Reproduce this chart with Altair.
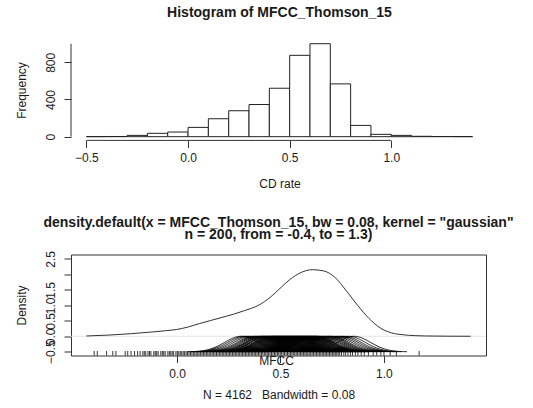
import altair as alt
import pandas as pd

# ---------------- data ----------------
hist_bin_start = [-0.5, -0.4, -0.3, -0.2, -0.1, 0.0, 0.1, 0.2, 0.3, 0.4,
                  0.5, 0.6, 0.7, 0.8, 0.9, 1.0, 1.1, 1.2, 1.3]
hist_bin_end = [-0.4, -0.3, -0.2, -0.1, 0.0, 0.1, 0.2, 0.3, 0.4, 0.5,
                0.6, 0.7, 0.8, 0.9, 1.0, 1.1, 1.2, 1.3, 1.4]
hist_counts = [1, 2, 14, 36, 50, 100, 193, 279, 346, 521,
               875, 1000, 568, 121, 25, 14, 4, 2, 1]
hist_x_ticks = [-0.5, 0.0, 0.5, 1.0]
hist_y_ticks = [0, 200, 400, 600, 800, 1000]

dens_x = [-0.40, -0.30, -0.20, -0.10, -0.05, 0.00, 0.05, 0.10, 0.15, 0.20,
          0.25, 0.30, 0.35, 0.40, 0.45, 0.50, 0.55, 0.60, 0.65, 0.70,
          0.75, 0.80, 0.85, 0.90, 0.95, 1.00, 1.05, 1.10, 1.20, 1.30]
dens_y = [0.010, 0.040, 0.085, 0.145, 0.180, 0.220, 0.300, 0.410, 0.510, 0.610,
          0.710, 0.830, 0.960, 1.180, 1.500, 1.830, 2.060, 2.150, 2.110, 1.900,
          1.470, 1.000, 0.580, 0.270, 0.110, 0.050, 0.022, 0.010, 0.003, 0.001]

kernel_centers = [0.31, 0.325, 0.34, 0.355, 0.37, 0.38, 0.39, 0.40, 0.41, 0.415,
                  0.42, 0.43, 0.435, 0.44, 0.45, 0.455, 0.46, 0.465, 0.47, 0.475,
                  0.48, 0.485, 0.49, 0.495, 0.50, 0.505, 0.51, 0.515, 0.52, 0.525,
                  0.53, 0.535, 0.54, 0.545, 0.55, 0.555, 0.56, 0.565, 0.57, 0.575,
                  0.58, 0.585, 0.59, 0.595, 0.60, 0.605, 0.61, 0.615, 0.62, 0.625,
                  0.63, 0.635, 0.64, 0.645, 0.65, 0.655, 0.66, 0.665, 0.67, 0.675,
                  0.68, 0.69, 0.70, 0.71, 0.72, 0.73, 0.74, 0.75, 0.765, 0.78,
                  0.795, 0.81, 0.83, 0.855]

rug_values = [-0.40, -0.385, -0.34, -0.31, -0.295, -0.25, -0.238, -0.222, -0.205, -0.19,
              -0.178, -0.165, -0.158, -0.151, -0.14, -0.133, -0.126, -0.112, -0.105, -0.098,
              -0.091, -0.078, -0.071, -0.064, -0.057, -0.044, -0.037, -0.03, -0.023, -0.016,
              -0.005, 0.002, 0.009, 0.016, 0.023, 0.03, 0.037, 0.044, 0.051, 0.058,
              0.065, 0.072, 0.079, 0.086, 0.093, 0.100, 0.107, 0.114, 0.121, 0.128,
              0.135, 0.142, 0.149, 0.156, 0.163, 0.170, 0.177, 0.184, 0.191, 0.198,
              0.205, 0.212, 0.219, 0.226, 0.233, 0.240, 0.247, 0.254, 0.261, 0.268,
              0.275, 0.282, 0.289, 0.296, 0.303, 0.310, 0.317, 0.324, 0.331, 0.338,
              0.345, 0.352, 0.359, 0.366, 0.373, 0.380, 0.387, 0.394, 0.401, 0.408,
              0.415, 0.422, 0.429, 0.436, 0.443, 0.450, 0.457, 0.464, 0.471, 0.478,
              0.485, 0.492, 0.499, 0.506, 0.513, 0.520, 0.527, 0.534, 0.541, 0.548,
              0.555, 0.562, 0.569, 0.576, 0.583, 0.590, 0.597, 0.604, 0.611, 0.618,
              0.625, 0.632, 0.639, 0.646, 0.653, 0.660, 0.667, 0.674, 0.681, 0.688,
              0.695, 0.702, 0.709, 0.716, 0.723, 0.730, 0.737, 0.744, 0.751, 0.758,
              0.765, 0.772, 0.779, 0.786, 0.795, 0.806, 0.815, 0.826, 0.838, 0.848,
              0.862, 0.874, 0.89, 0.905, 0.925, 0.948, 0.965, 0.985, 1.00, 1.03,
              1.06, 1.17]

dens_x_ticks = [0.0, 0.5, 1.0]
dens_y_ticks = [-0.5, 0.0, 0.5, 1.0, 1.5, 2.0, 2.5]

FONT = "Liberation Sans"
TXT = "#1a1a1a"
LINE = "#333333"

# ---------------- top: histogram ----------------
hist_df = pd.DataFrame({"x": hist_bin_start, "x2": hist_bin_end, "count": hist_counts})
xs_top = alt.Scale(domain=[-0.576, 1.476], nice=False, zero=False)
ys_top = alt.Scale(domain=[-40, 1040], nice=False, zero=False)

top_x_axis = alt.Axis(values=hist_x_ticks, format=".1f", domain=False, grid=False,
                      tickSize=7, tickColor=LINE, labelFont=FONT, labelFontSize=12,
                      labelColor=TXT, labelBaseline="alphabetic", labelPadding=14,
                      labelFlush=False, labelOverlap=False,
                      title="CD rate", titleFont=FONT, titleFontSize=12,
                      titleFontWeight="normal", titleColor=TXT, titleBaseline="alphabetic",
                      titleY=47.5, titleX=208.5, titleAlign="center")
top_y_axis = alt.Axis(values=hist_y_ticks, format="d",
                      labelExpr="(datum.value == 0 || datum.value == 400 || datum.value == 800) ? datum.label : ''",
                      domain=False, grid=False, tickSize=7, tickColor=LINE,
                      labelFont=FONT, labelFontSize=12, labelColor=TXT, labelAngle=270,
                      labelAlign="center", labelBaseline="alphabetic", labelPadding=10,
                      labelFlush=False, labelOverlap=False,
                      title="Frequency", titleFont=FONT, titleFontSize=12,
                      titleFontWeight="normal", titleColor=TXT, titleAngle=270,
                      titleX=-46, titleY=50, titleAlign="center", titleBaseline="alphabetic")

bars = alt.Chart(hist_df).mark_rect(fill="white", stroke="#222222", strokeWidth=1).encode(
    x=alt.X("x:Q", scale=xs_top, axis=top_x_axis),
    x2="x2:Q",
    y=alt.Y("count:Q", scale=ys_top, axis=top_y_axis),
    y2=alt.datum(0),
)
xline_df = pd.DataFrame({"a": [min(hist_x_ticks)], "b": [max(hist_x_ticks)]})
xline = alt.Chart(xline_df).mark_rule(color=LINE, strokeWidth=1).encode(
    x=alt.X("a:Q", scale=xs_top), x2="b:Q", y=alt.value(100.4))
yline_df = pd.DataFrame({"a": [min(hist_y_ticks)], "b": [max(hist_y_ticks)]})
yline = alt.Chart(yline_df).mark_rule(color=LINE, strokeWidth=1).encode(
    y=alt.Y("a:Q", scale=ys_top), y2="b:Q", x=alt.value(0))

top = alt.layer(bars, xline, yline).properties(
    width=417, height=100.4,
    view=alt.ViewBackground(stroke="transparent", strokeWidth=0),
    title=alt.TitleParams("Histogram of MFCC_Thomson_15", font=FONT, fontSize=14,
                          fontWeight="bold", color=TXT, anchor="middle",
                          baseline="bottom", offset=6),
)

# ---------------- bottom: density ----------------
xs_main = alt.Scale(domain=[-0.468, 1.368], nice=False, zero=False)
xs_k = alt.Scale(domain=[-0.512, 1.493], nice=False, zero=False)
ys_b = alt.Scale(domain=[-0.62, 2.64], nice=False, zero=False)

b_y_axis = alt.Axis(values=dens_y_ticks, format=".1f",
                    labelExpr="datum.value == 2 ? '' : datum.label",
                    domain=False, grid=False, tickSize=7, tickColor=LINE,
                    labelFont=FONT, labelFontSize=12, labelColor=TXT, labelAngle=270,
                    labelAlign="center", labelBaseline="alphabetic", labelPadding=10,
                    labelFlush=False, labelOverlap=False,
                    title="Density", titleFont=FONT, titleFontSize=12,
                    titleFontWeight="normal", titleColor=TXT, titleAngle=270,
                    titleX=-46, titleY=50.5, titleAlign="center", titleBaseline="alphabetic")
main_x_axis = alt.Axis(orient="bottom", labels=False, ticks=False, domain=False, grid=False,
                       title="N = 4162\u00a0\u00a0\u00a0Bandwidth = 0.08", titleFont=FONT,
                       titleFontSize=12, titleFontWeight="normal", titleColor=TXT,
                       titleBaseline="alphabetic", titleY=42.5, titleX=207.5,
                       titleAlign="center")
k_x_axis = alt.Axis(orient="bottom", values=dens_x_ticks, format=".1f", domain=False,
                    grid=False, tickSize=7, tickColor=LINE, labelFont=FONT,
                    labelFontSize=12, labelColor=TXT, labelBaseline="alphabetic",
                    labelPadding=14.5, labelFlush=False, labelOverlap=False,
                    title="MFCC", titleFont=FONT, titleFontSize=12,
                    titleFontWeight="normal", titleColor=TXT, titleBaseline="alphabetic",
                    titleY=8.5, titleX=205, titleAlign="center")

dens_df = pd.DataFrame({"x": dens_x, "y": dens_y})
main_curve = alt.Chart(dens_df).mark_line(color=LINE, strokeWidth=1, interpolate="monotone").encode(
    x=alt.X("x:Q", scale=xs_main, axis=main_x_axis),
    y=alt.Y("y:Q", scale=ys_b, axis=b_y_axis),
)

zero_df = pd.DataFrame({"y": [0.0]})
zero_line = alt.Chart(zero_df).mark_rule(color="#e4e4e4", strokeWidth=1).encode(
    y=alt.Y("y:Q", scale=ys_b, axis=b_y_axis))

k_df = pd.DataFrame({"c": kernel_centers, "id": list(range(len(kernel_centers)))})
kernels = alt.Chart(k_df).transform_density(
    "c", groupby=["id"], bandwidth=0.08, extent=[-0.1, 1.3], steps=281, as_=["v", "d"]
).transform_calculate(
    y="-0.5 + datum.d * 0.5 * 0.08 * sqrt(2 * PI)"
).transform_filter("datum.y > -0.497").mark_line(
    color="black", strokeWidth=0.9, opacity=1
).encode(
    x=alt.X("v:Q", scale=xs_k, axis=k_x_axis),
    y=alt.Y("y:Q", scale=ys_b, axis=b_y_axis),
    detail="id:N",
)

rug_df = pd.DataFrame({"r": rug_values})
rug = alt.Chart(rug_df).mark_rule(color="black", strokeWidth=0.8).encode(
    x=alt.X("r:Q", scale=xs_k, axis=None),
    y=alt.value(101), y2=alt.value(96.5),
)

bottom = alt.layer(zero_line, main_curve, kernels, rug).resolve_scale(x="independent").properties(
    width=415, height=101,
    view=alt.ViewBackground(stroke=LINE, strokeWidth=1),
    title=alt.TitleParams(["density.default(x = MFCC_Thomson_15, bw = 0.08, kernel = \"gaussian\"",
                           "n = 200, from = -0.4, to = 1.3)"],
                          font=FONT, fontSize=14, fontWeight="bold", color=TXT,
                          anchor="middle", baseline="bottom", offset=-5.5, lineHeight=11.5),
)

chart = alt.vconcat(top, bottom, spacing=25.5).properties(
    padding={"left": 14, "top": 6, "right": 0, "bottom": 0},
).configure_view(stroke="transparent").configure(background="white")

chart.save("out.html", embed_options={"renderer": "svg", "actions": False})
